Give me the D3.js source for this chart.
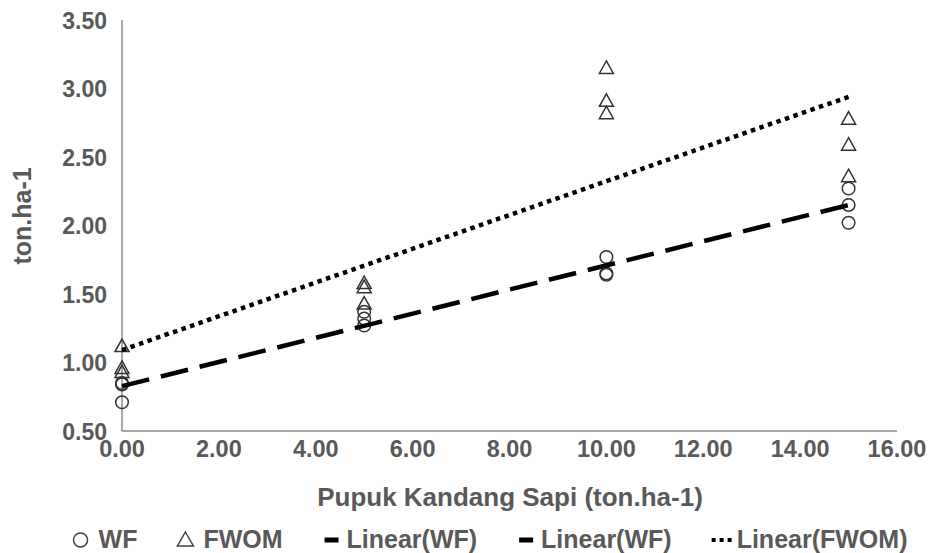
<!DOCTYPE html>
<html>
<head>
<meta charset="utf-8">
<script src="https://cdn.jsdelivr.net/npm/d3@7"></script>
<style>
  body { margin: 0; background: #fff; }
  text { font-family: "Liberation Sans", Arial, sans-serif; fill: #595959; font-weight: bold; }
</style>
</head>
<body>
<div id="chart"></div>
<script>
// data
const doses = [0, 5, 10, 15];
const wf = [
  [0.85, 0.84, 0.71],
  [1.37, 1.32, 1.27],
  [1.77, 1.65, 1.64],
  [2.27, 2.15, 2.02]
];
const fwom = [
  [1.12, 0.96, 0.93],
  [1.58, 1.55, 1.43],
  [3.15, 2.91, 2.82],
  [2.78, 2.59, 2.36]
];
const xTicks = [0, 2, 4, 6, 8, 10, 12, 14, 16];
const yTicks = [0.5, 1, 1.5, 2, 2.5, 3, 3.5];
const legendItems = ["WF", "FWOM", "Linear(WF)", "Linear(WF)", "Linear(FWOM)"];

const width = 935, height = 553;
const mLeft = 122, mRight = 897, mTop = 20, mBottom = 431;

const svg = d3.select("#chart").append("svg")
  .attr("width", width)
  .attr("height", height);

const x = d3.scaleLinear().domain([0, 16]).range([mLeft, mRight]);
const y = d3.scaleLinear().domain([0.5, 3.5]).range([mBottom, mTop]);

// flatten to points
function toPoints(groups) {
  const pts = [];
  groups.forEach((g, i) => g.forEach(v => pts.push({ x: doses[i], y: v })));
  return pts;
}
const wfPts = toPoints(wf);
const fwomPts = toPoints(fwom);

// least squares trend, like the spreadsheet
function trend(pts) {
  const mx = d3.mean(pts, d => d.x), my = d3.mean(pts, d => d.y);
  const sxy = d3.sum(pts, d => (d.x - mx) * (d.y - my));
  const sxx = d3.sum(pts, d => (d.x - mx) ** 2);
  const b = sxy / sxx;
  return [{ x: 0, y: my - b * mx }, { x: 15, y: my - b * mx + b * 15 }];
}

// axes
svg.append("line")
  .attr("x1", mLeft).attr("x2", mLeft).attr("y1", mTop).attr("y2", mBottom)
  .attr("stroke", "#8c8c8c").attr("stroke-width", 1.5);
svg.append("line")
  .attr("x1", mLeft).attr("x2", mRight).attr("y1", mBottom).attr("y2", mBottom)
  .attr("stroke", "#8c8c8c").attr("stroke-width", 1.5);

svg.append("g").selectAll("text")
  .data(yTicks)
  .enter().append("text")
  .attr("x", mLeft - 15)
  .attr("y", d => y(d) + 8.5)
  .attr("text-anchor", "end")
  .style("font-size", "23px")
  .text(d => d.toFixed(2));

svg.append("g").selectAll("text")
  .data(xTicks)
  .enter().append("text")
  .attr("x", d => x(d))
  .attr("y", mBottom + 26)
  .attr("text-anchor", "middle")
  .style("font-size", "23.5px")
  .text(d => d.toFixed(2));

svg.append("text")
  .attr("transform", `translate(31,216) rotate(-90)`)
  .attr("text-anchor", "middle")
  .style("font-size", "25px")
  .text("ton.ha-1");

svg.append("text")
  .attr("x", 510)
  .attr("y", 506)
  .attr("text-anchor", "middle")
  .style("font-size", "26px")
  .text("Pupuk Kandang Sapi (ton.ha-1)");

// markers
const triangle = "M0,-7L7,5.5L-7,5.5Z";

svg.append("g").selectAll("circle")
  .data(wfPts)
  .enter().append("circle")
  .attr("cx", d => x(d.x))
  .attr("cy", d => y(d.y))
  .attr("r", 6.3)
  .attr("fill", "none")
  .attr("stroke", "#333")
  .attr("stroke-width", 1.5);

svg.append("g").selectAll("path")
  .data(fwomPts)
  .enter().append("path")
  .attr("d", triangle)
  .attr("transform", d => `translate(${x(d.x)},${y(d.y)})`)
  .attr("fill", "none")
  .attr("stroke", "#333")
  .attr("stroke-width", 1.5);

// trend lines
const line = d3.line().x(d => x(d.x)).y(d => y(d.y));
svg.append("path")
  .attr("d", line(trend(wfPts)))
  .attr("fill", "none")
  .attr("stroke", "#000")
  .attr("stroke-width", 4.5)
  .attr("stroke-dasharray", "28,12");
svg.append("path")
  .attr("d", line(trend(fwomPts)))
  .attr("fill", "none")
  .attr("stroke", "#000")
  .attr("stroke-width", 4.5)
  .attr("stroke-dasharray", "4.5,4.5");

// legend, laid out then centred
const legend = svg.append("g");
let lx = 0;
const ly = 548;
const gap = 40;
legendItems.forEach((name, i) => {
  if (i === 0) {
    legend.append("circle").attr("cx", lx + 8).attr("cy", ly - 8).attr("r", 7)
      .attr("fill", "none").attr("stroke", "#404040").attr("stroke-width", 1.5);
    lx += 26;
  } else if (i === 1) {
    legend.append("path").attr("d", "M0,-8L8,6L-8,6Z")
      .attr("transform", `translate(${lx + 8},${ly - 8})`)
      .attr("fill", "none").attr("stroke", "#404040").attr("stroke-width", 1.5);
    lx += 26;
  } else if (i < 4) {
    legend.append("line").attr("x1", lx + 2).attr("x2", lx + 16)
      .attr("y1", ly - 8).attr("y2", ly - 8)
      .attr("stroke", "#000").attr("stroke-width", 5);
    lx += 24;
  } else {
    legend.append("line").attr("x1", lx).attr("x2", lx + 20)
      .attr("y1", ly - 8).attr("y2", ly - 8)
      .attr("stroke", "#000").attr("stroke-width", 4)
      .attr("stroke-dasharray", "4,4");
    lx += 25;
  }
  const t = legend.append("text")
    .attr("x", lx)
    .attr("y", ly)
    .style("font-size", "25px")
    .text(name);
  lx += t.node().getComputedTextLength() + gap;
});
const lw = lx - gap;
legend.attr("transform", `translate(${490 - lw / 2},0)`);
</script>
</body>
</html>
